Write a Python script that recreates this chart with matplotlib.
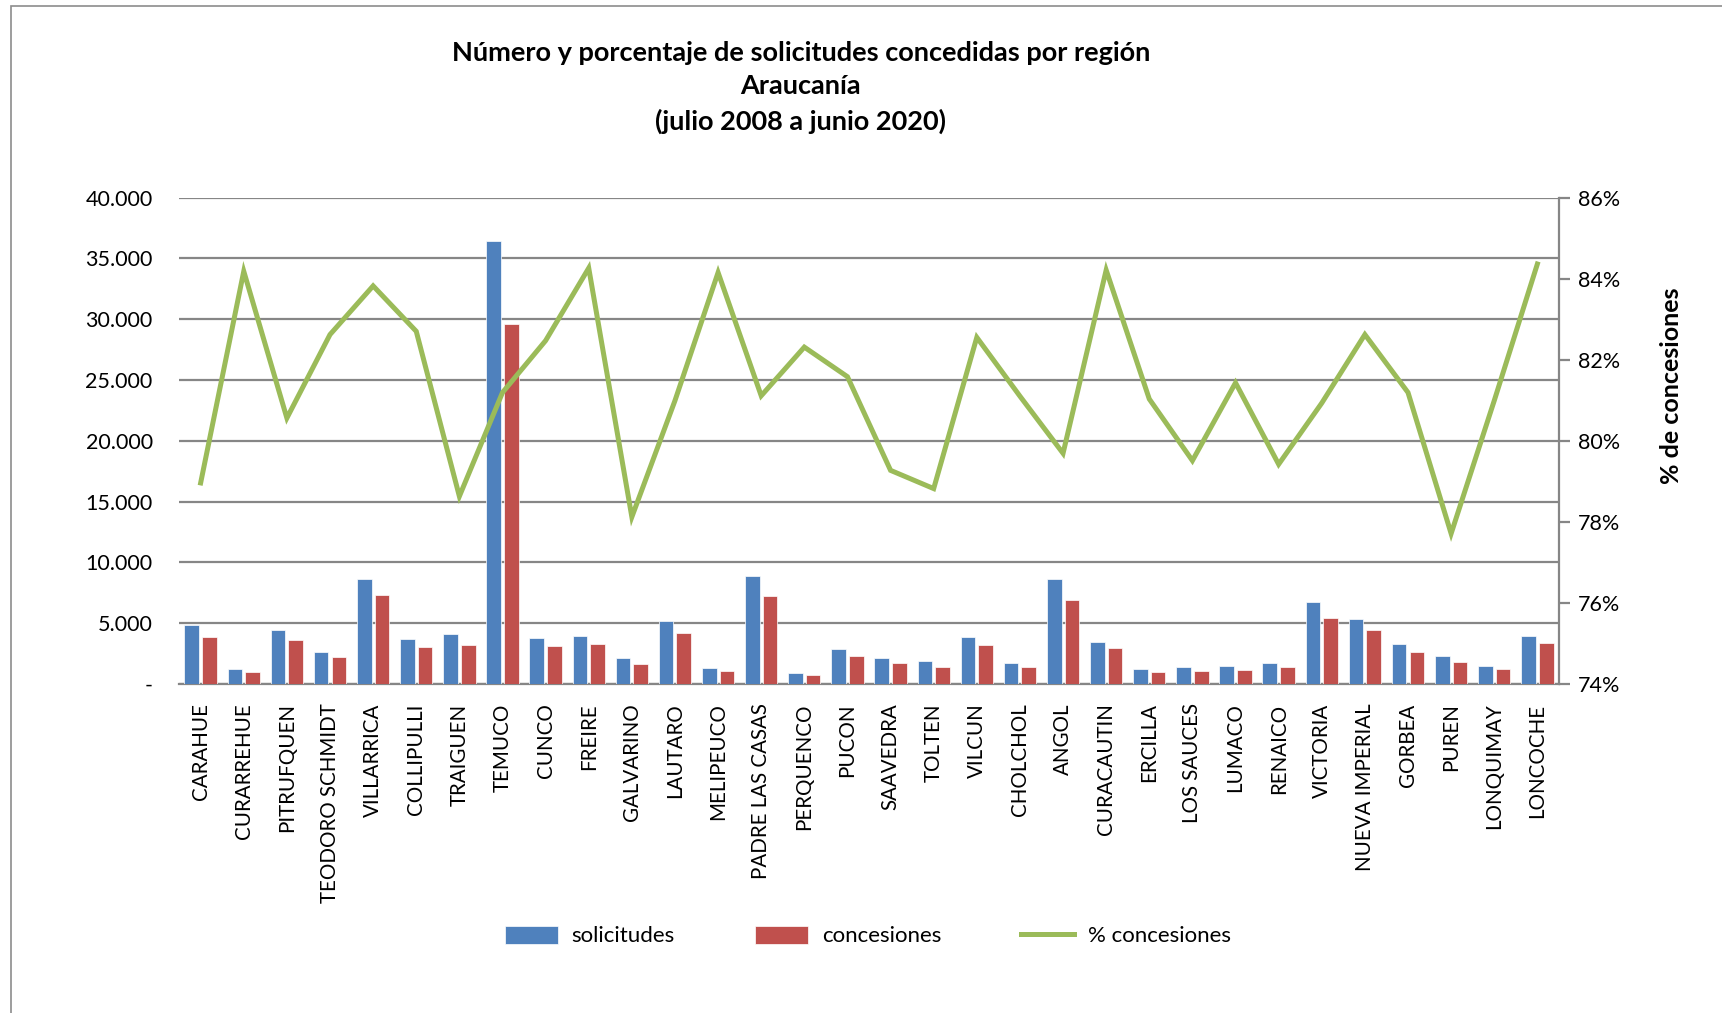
import matplotlib.pyplot as plt
from matplotlib.patches import Rectangle
from matplotlib.ticker import FuncFormatter, MultipleLocator
import numpy as np

plt.rcParams["font.family"] = ["Lato", "DejaVu Sans"]

comunas = [
    "CARAHUE", "CURARREHUE", "PITRUFQUEN", "TEODORO SCHMIDT", "VILLARRICA",
    "COLLIPULLI", "TRAIGUEN", "TEMUCO", "CUNCO", "FREIRE", "GALVARINO",
    "LAUTARO", "MELIPEUCO", "PADRE LAS CASAS", "PERQUENCO", "PUCON",
    "SAAVEDRA", "TOLTEN", "VILCUN", "CHOLCHOL", "ANGOL", "CURACAUTIN",
    "ERCILLA", "LOS SAUCES", "LUMACO", "RENAICO", "VICTORIA",
    "NUEVA IMPERIAL", "GORBEA", "PUREN", "LONQUIMAY", "LONCOCHE",
]
solicitudes = [
    4840, 1230, 4460, 2650, 8620, 3690, 4100, 36400, 3750, 3910, 2130,
    5200, 1290, 8890, 900, 2850, 2160, 1860, 3830, 1750, 8620, 3470,
    1200, 1370, 1480, 1750, 6700, 5360, 3280, 2330, 1480, 3910,
]
concesiones = [
    3830, 1010, 3580, 2190, 7280, 3010, 3230, 29600, 3120, 3280, 1640,
    4210, 1070, 7200, 740, 2330, 1700, 1420, 3170, 1370, 6870, 2930,
    980, 1040, 1150, 1370, 5390, 4430, 2650, 1810, 1230, 3340,
]
pct_concesiones = [
    78.96, 84.18, 80.56, 82.62, 83.82, 82.70, 78.63, 81.19, 82.47, 84.26,
    78.12, 80.99, 84.15, 81.11, 82.31, 81.58, 79.27, 78.82, 82.55, 81.10,
    79.69, 84.21, 81.03, 79.51, 81.43, 79.42, 80.93, 82.62, 81.19, 77.71,
    80.99, 84.36,
]

BLUE = "#4F81BD"
RED = "#C0504D"
GREEN = "#9BBB59"
GRID = "#868686"


def miles(v, _):
    if v == 0:
        return "-"
    return f"{int(v):,}".replace(",", ".")


def main():
    fig = plt.figure(figsize=(17.22, 10.13), dpi=100)
    fig.patches.append(Rectangle((11 / 1722, -0.1), 1.2, 1 - 6 / 1013 + 0.1,
                                 transform=fig.transFigure, fill=False,
                                 edgecolor="#8c8c8c", linewidth=1.2))

    ax = fig.add_axes([0.104, 0.3248, 0.8013, 0.4802])
    x = np.arange(len(comunas))
    w = 0.34
    ax.bar(x - 0.205, solicitudes, w, color=BLUE, edgecolor="white",
           linewidth=0.5, label="solicitudes", zorder=3)
    ax.bar(x + 0.205, concesiones, w, color=RED, edgecolor="white",
           linewidth=0.5, label="concesiones", zorder=3)

    ax.set_xlim(-0.5, len(comunas) - 0.5)
    ax.set_ylim(0, 40000)
    ax.yaxis.set_major_locator(MultipleLocator(5000))
    ax.yaxis.set_major_formatter(FuncFormatter(miles))
    ax.grid(axis="y", color=GRID, linewidth=1.6, zorder=0)
    ax.set_axisbelow(True)
    ax.set_xticks(x)
    ax.set_xticklabels(comunas, rotation=90, fontsize=14.8)
    ax.tick_params(axis="x", length=0, pad=14)
    ax.tick_params(axis="y", length=0, labelsize=15.5, pad=19)
    for s in ("top", "left", "right"):
        ax.spines[s].set_visible(False)
    ax.spines["bottom"].set_color(GRID)
    ax.spines["bottom"].set_linewidth(1.6)

    ax2 = ax.twinx()
    ax2.plot(x, pct_concesiones, color=GREEN, linewidth=3.6,
             solid_joinstyle="miter", label="% concesiones", zorder=4)
    ax2.set_ylim(74, 86)
    ax2.yaxis.set_major_locator(MultipleLocator(2))
    ax2.yaxis.set_major_formatter(FuncFormatter(lambda v, _: f"{v:.0f}%"))
    ax2.tick_params(axis="y", length=8, width=1.6, color=GRID,
                    labelsize=15.5, pad=6)
    for s in ("top", "left", "bottom"):
        ax2.spines[s].set_visible(False)
    ax2.spines["right"].set_color(GRID)
    ax2.spines["right"].set_linewidth(1.6)
    ax2.set_ylabel("% de concesiones", fontsize=18, fontweight="bold")
    ax2.yaxis.set_label_coords(1.073, 0.614)

    fig.text(0.465, 0.960, "Número y porcentaje de solicitudes concedidas por región\n"
             "Araucanía\n(julio 2008 a junio 2020)", ha="center", va="top",
             fontsize=19.5, fontweight="bold", linespacing=1.48)

    h1, l1 = ax.get_legend_handles_labels()
    h2, l2 = ax2.get_legend_handles_labels()
    fig.legend(h1 + h2, l1 + l2, loc="center", bbox_to_anchor=(0.504, 0.076),
               ncol=3, frameon=False, fontsize=16, columnspacing=3.6,
               handlelength=2.4, handleheight=0.9, handletextpad=0.6)

    fig.savefig("out.png", dpi=100)


if __name__ == "__main__":
    main()
